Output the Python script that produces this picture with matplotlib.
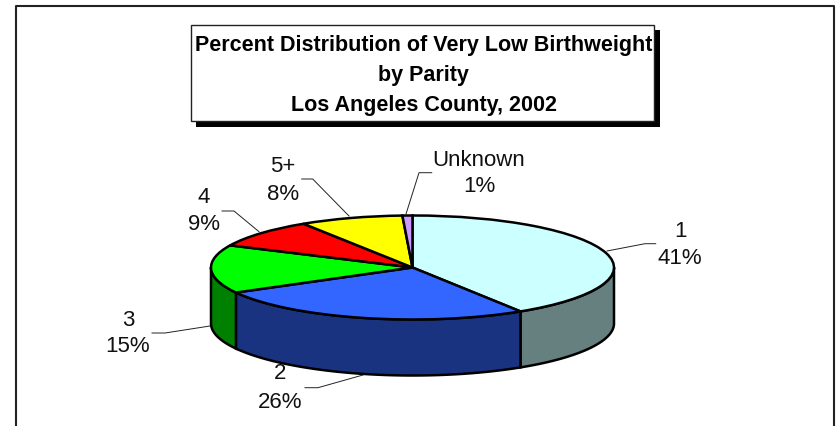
import numpy as np
from matplotlib import pyplot as plt
from matplotlib.patches import Rectangle

categories = ["1", "2", "3", "4", "5+", "Unknown"]
percents = [41.0, 26.0, 15.0, 8.9, 8.3, 0.8]
top_colors = ["#CCFFFF", "#3366FF", "#00FF00", "#FF0000", "#FFFF00", "#CC99FF"]
side_colors = ["#668080", "#1A3380", "#008000", "#800000", "#808000", "#664D80"]
title_lines = ["Percent Distribution of Very Low Birthweight", "by Parity", "Los Angeles County, 2002"]

W, H = 838, 427
# ellipse of the pie top in pixels
CX, CY, RX, RY = 412.5, 268.5, 201.5, 52.0
DEPTH = 56 / RY


def px(x, y):
    # picture pixels to data units of the pie
    return (x - CX) / RX, (CY - y) / RY


plt.rcParams['font.family'] = ['Liberation Sans', 'DejaVu Sans']
fig = plt.figure(figsize=(W / 100, H / 100), dpi=100)
ax = fig.add_axes([0, 0, 1, 1])

# side wall first, only the front half shows
edges = np.cumsum([0] + percents) / np.sum(percents) * 360
for i in range(len(percents)):
    a0, a1 = max(edges[i], 90), min(edges[i + 1], 270)
    if a1 <= a0:
        continue
    t = np.radians(np.linspace(a0, a1, 80))
    xs = np.sin(t)
    ys = np.cos(t)
    ax.fill(np.r_[xs, xs[::-1]], np.r_[ys, ys[::-1] - DEPTH], facecolor=side_colors[i],
            edgecolor="black", linewidth=1.8, zorder=1)

ax.pie(percents, colors=top_colors, startangle=90, counterclock=False,
       wedgeprops={"edgecolor": "black", "linewidth": 1.8, "zorder": 2})
ax.set_aspect("auto")
ax.set_xlim(px(0, 0)[0], px(W, 0)[0])
ax.set_ylim(px(0, H)[1], px(0, 0)[1])
ax.axis("off")

# outer frame, open at the bottom
fx, fy = zip(px(16, H), px(16, 7), px(834, 7), px(834, H))
ax.plot(fx, fy, color="#222222", linewidth=1.5, zorder=3)

# title box with its shadow
x0, y0 = px(196, 128)
x1, y1 = px(660, 31)
ax.add_patch(Rectangle((x0, y0), x1 - x0, y1 - y0, facecolor="black", edgecolor="none", zorder=4))
x0, y0 = px(191, 122)
x1, y1 = px(654, 26)
ax.add_patch(Rectangle((x0, y0), x1 - x0, y1 - y0, facecolor="white", edgecolor="#222222", linewidth=1, zorder=5))
for line, y in zip(title_lines, [45, 75, 105]):
    tx, ty = px(423.5, y)
    ax.text(tx, ty, line, ha="center", va="center", fontsize=15.5, fontweight="bold", color="black", zorder=6)

# labels: centre of name, centre of percent, then the leader line
label_pos = [(680, 232, 258), (280, 374, 402), (128, 320, 347), (204, 198, 225), (283, 166, 194), (479, 160, 187)]
leaders = [
    [(655.7, 244.7), (645, 244.7), (607, 252)],
    [(305, 388.7), (318, 388.7), (363, 376)],
    [(152, 334), (165, 334), (210, 327)],
    [(222, 212), (234, 212), (259, 232.7)],
    [(301.7, 180), (312.7, 180), (349, 217)],
    [(431.7, 173.7), (419, 173.7), (405.7, 216)],
]
for name, val, pos, lead in zip(categories, percents, label_pos, leaders):
    tx, ty = px(pos[0], pos[1])
    ax.text(tx, ty, name, ha="center", va="center", fontsize=16, color="#111111", zorder=6)
    tx, ty = px(pos[0], pos[2])
    ax.text(tx, ty, f"{val:.0f}%", ha="center", va="center", fontsize=16, color="#111111", zorder=6)
    lx, ly = zip(*[px(a, b) for a, b in lead])
    ax.plot(lx, ly, color="#222222", linewidth=0.7, zorder=3)

fig.savefig("out.png", dpi=100)
